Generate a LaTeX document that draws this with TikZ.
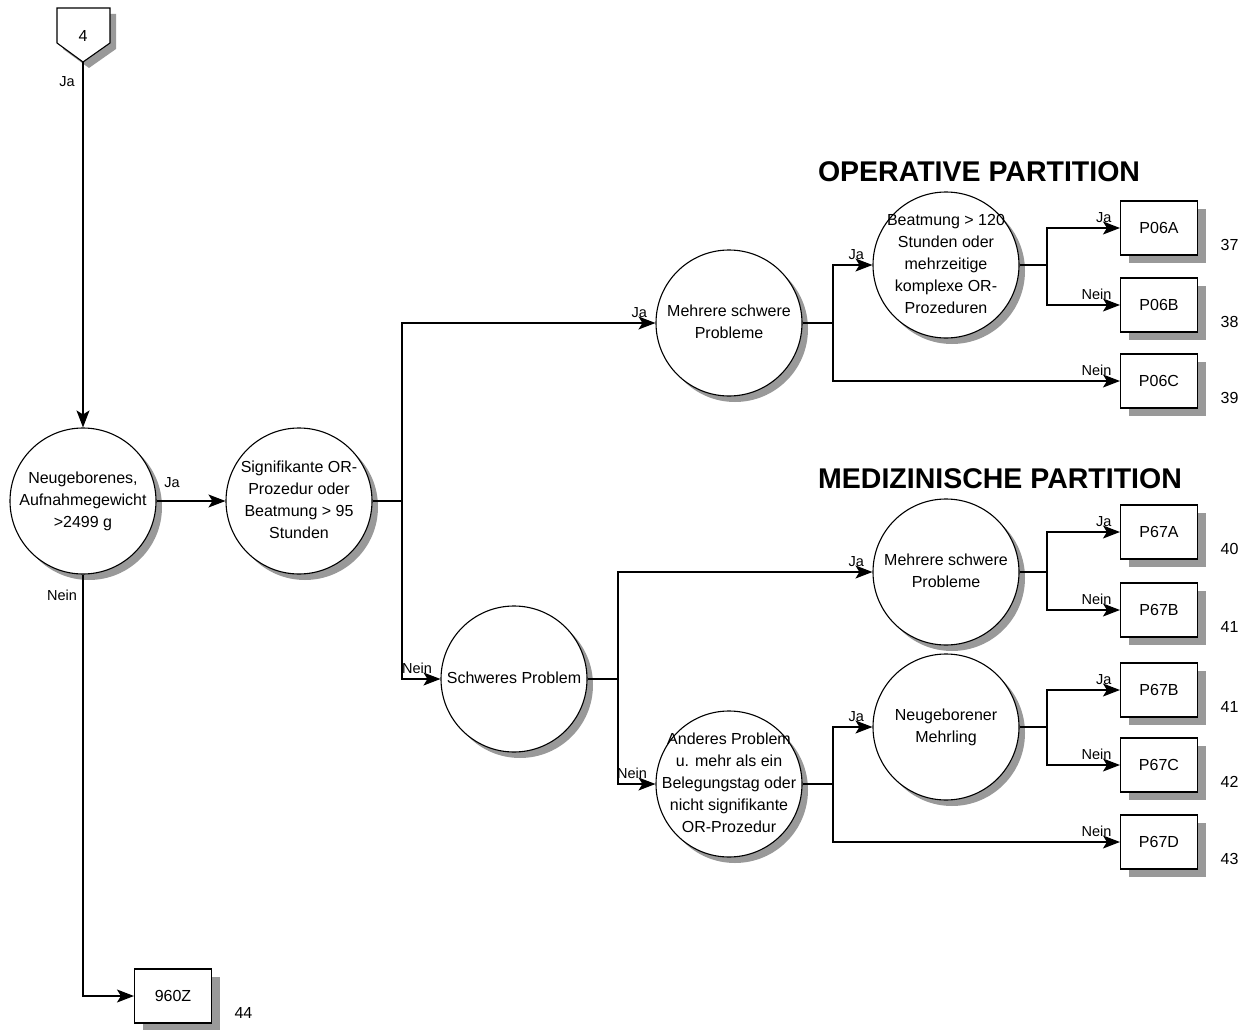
\documentclass[tikz,border=0pt]{standalone}
\usepackage{fontspec}
\setmainfont{Liberation Sans}
\usetikzlibrary{arrows.meta, shadows, positioning, calc}
\newcommand{\circtext}[1]{\makebox[0pt]{\smash{\raisebox{-0.27em}{\begin{tabular}{@{}c@{}}#1\end{tabular}}}}}

\begin{document}
\begin{tikzpicture}[x=1pt, y=-1pt, line width=1.1pt,
    every node/.style={font=\fontsize{16}{22}\selectfont},
    dec/.style={circle, draw, fill=white, minimum size=146pt, inner sep=0pt,
      drop shadow={shadow xshift=6pt, shadow yshift=-6pt, fill=black!40, opacity=1}},
    drg/.style={draw, fill=white, minimum width=77pt, minimum height=54pt, inner sep=0pt,
      drop shadow={shadow xshift=8pt, shadow yshift=-8pt, fill=black!40, opacity=1}},
    arr/.style={-{Stealth[length=17pt, width=13pt, inset=4pt]}},
    lab/.style={font=\fontsize{14.5}{16}\selectfont, inner sep=0pt},
    lbl/.style={lab, anchor=south east, xshift=-8pt, yshift=5pt},
    num/.style={anchor=west, inner sep=0pt, xshift=22pt, yshift=-17pt},
    parttitle/.style={font=\fontsize{28.5}{32}\selectfont\bfseries}]
    \useasboundingbox (0,0) rectangle (1251,1030);

    % off-page connector
    \draw [fill=white, drop shadow={shadow xshift=6pt, shadow yshift=-6pt, fill=black!40, opacity=1}]
      (57,8) -- (110,8) -- (110,43) -- (83,62) -- (57,43) -- cycle;
    \node (con) at (83,36) {4};
    \coordinate (contip) at (83,62);
    \node[lab] (lja) at (67,82) {Ja};

    \node[dec] (c1) at (83,501) {\circtext{Neugeborenes,\\Aufnahmegewicht\\>2499 g}};
    \node[dec] (c2) at (299,501) {\circtext{Signifikante OR-\\Prozedur oder\\Beatmung > 95\\Stunden}};
    \node[dec] (c3) at (729,323) {\circtext{Mehrere schwere\\Probleme}};
    \node[dec] (c4) at (946,265) {\circtext{Beatmung > 120\\Stunden oder\\mehrzeitige\\komplexe OR-\\Prozeduren}};
    \node[dec] (c5) at (514,679) {\circtext{Schweres Problem}};
    \node[dec] (c6) at (946,572) {\circtext{Mehrere schwere\\Probleme}};
    \node[dec] (c7) at (729,784) {\circtext{Anderes Problem\\u. mehr als ein\\Belegungstag oder\\nicht signifikante\\OR-Prozedur}};
    \node[dec] (c8) at (946,727) {\circtext{Neugeborener\\Mehrling}};

    \node[drg] (p06a) at (1159,228) {P06A};
    \node[drg] (p06b) at (1159,305) {P06B};
    \node[drg] (p06c) at (1159,381) {P06C};
    \node[drg] (p67a) at (1159,532) {P67A};
    \node[drg] (p67b) at (1159,610) {P67B};
    \node[drg] (p67bb) at (1159,690) {P67B};
    \node[drg] (p67c) at (1159,765) {P67C};
    \node[drg] (p67d) at (1159,842) {P67D};
    \node[drg] (z960) at (173,996) {960Z};

    \node[parttitle] (op) at (979,172) {OPERATIVE PARTITION};
    \node[parttitle] (med) at (1000,479) {MEDIZINISCHE PARTITION};

    \coordinate (j1) at (83,996);
    \coordinate (j2) at (402,501);
    \coordinate (j3) at (833,323);
    \coordinate (j4) at (1047,265);
    \coordinate (j5) at (618,679);
    \coordinate (j6) at (1047,572);
    \coordinate (j7) at (833,784);
    \coordinate (j8) at (1047,727);

    \draw [arr] (contip) -- (c1);
    \draw [arr] (c1) -- (c2);
    \draw [arr] (c1) -- (j1) -- (z960);
    \draw (c2) -- (j2);
    \draw [arr] (j2) |- (c3);
    \draw [arr] (j2) |- (c5);
    \draw (c3) -- (j3);
    \draw [arr] (j3) |- (c4);
    \draw [arr] (j3) |- (p06c);
    \draw (c4) -- (j4);
    \draw [arr] (j4) |- (p06a);
    \draw [arr] (j4) |- (p06b);
    \draw (c5) -- (j5);
    \draw [arr] (j5) |- (c6);
    \draw [arr] (j5) |- (c7);
    \draw (c6) -- (j6);
    \draw [arr] (j6) |- (p67a);
    \draw [arr] (j6) |- (p67b);
    \draw (c7) -- (j7);
    \draw [arr] (j7) |- (c8);
    \draw [arr] (j7) |- (p67d);
    \draw (c8) -- (j8);
    \draw [arr] (j8) |- (p67bb);
    \draw [arr] (j8) |- (p67c);

    \node[lab] (lc1) at (172,483) {Ja};
    \node[lab] (ln1) at (62,595) {Nein};
    \foreach \t/\l in {c3/Ja, c4/Ja, c5/Nein, c6/Ja, c7/Nein, c8/Ja, p06a/Ja, p06b/Nein, p06c/Nein,
        p67a/Ja, p67b/Nein, p67bb/Ja, p67c/Nein, p67d/Nein}
      \node[lbl] (l-\t) at (\t.west) {\l};

    \foreach \b/\n in {p06a/37, p06b/38, p06c/39, p67a/40, p67b/41, p67bb/41, p67c/42, p67d/43, z960/44}
      \node[num] (n-\b) at (\b.east) {\n};
  \end{tikzpicture}
\end{document}
